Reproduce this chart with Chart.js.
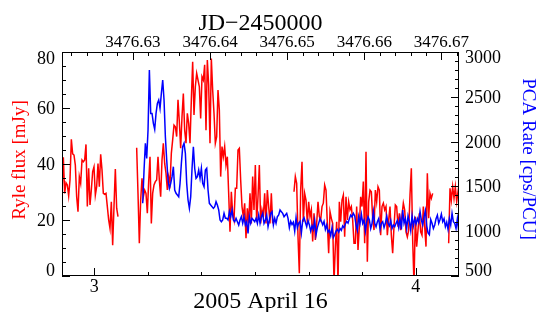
<!DOCTYPE html>
<html><head><meta charset="utf-8">
<script src="https://cdn.jsdelivr.net/npm/chart.js@4.4.0/dist/chart.umd.min.js"></script>
<style>html,body{margin:0;padding:0;background:#fff;}#wrap{width:537px;height:312px;}</style>
</head><body><div id="wrap"><canvas id="c" width="537" height="312" style="width:537px;height:312px"></canvas></div>
<script>
// Time axis: UT hours on 2005 April 16 (JD 2453476.5 = 0h UT)
const xMinUT = 2.8995;
const xMaxUT = 4.1347;
const jdZero = 3476.5;            // JD-2450000 at 0h UT
const sampleStepHours = 0.0041485; // ~15 s sampling
const ryleStartUT = 2.8995;
const pcaStartUT = 3.1506;

// Ryle flux [mJy] (null = no data)
const ryleFlux = [
29.5,42.4,29.5,33.3,32.5,28.6,34.3,48.8,43.6,43.2,39.6,28.3,23.0,35.5,33.1,41.4,40.8,41.4,47.0,24.8,
38.5,25.4,30.7,37.3,39.0,28.9,31.9,40.2,31.9,43.5,37.9,29.5,29.2,29.5,24.8,20.0,17.0,26.5,11.0,24.8,
38.2,24.2,21.2,
null,null,null,null,null,null,null,null,null,null,null,null,null,
45.8,29.5,11.7,27.1,34.9,28.3,30.7,29.5,22.4,33.7,42.6,18.8,29.5,32.5,33.7,34.3,
42.6,34.3,28.3,41.4,47.4,40.2,36.7,30.7,35.5,33.1,43.8,48.6,53.9,53.3,49.8,62.9,55.1,45.6,56.9,65.2,
52.1,47.4,58.1,54.5,47.4,62.9,76.5,57.5,67.6,72.4,70.0,67.6,56.3,71.2,70.0,75.4,52.1,77.1,68.2,47.4,
77.7,66.4,58.1,47.4,49.8,66.4,59.3,35.5,46.2,42.6,46.2,39.6,42.6,29.5,15.8,30.1,22.4,20.0,31.3,31.3,
45.0,45.6,34.3,24.8,21.2,26.0,13.5,24.2,18.8,29.5,18.8,35.5,23.6,39.6,
19.4,28.3,39.6,18.8,23.6,21.2,29.5,18.8,30.7,24.8,18.8,29.5,18.8,
null,null,null,null,null,null,null,null,null,null,null,null,null,null,null,
30.1,35.5,33.1,14.0,1.0,30.7,40.8,19.4,29.5,27.1,18.8,26.5,21.2,23.6,12.3,22.4,12.9,18.8,26.5,21.2,
20.0,24.8,26.0,32.5,30.7,18.8,8.1,23.0,20.6,18.8,-2.0,10.5,19.4,-3.0,26.5,19.4,27.1,28.9,14.0,28.3,
20.0,26.5,23.6,24.8,20.0,11.7,
11.7,24.8,9.3,17.6,28.3,24.8,33.7,11.7,44.4,5.1,26.5,30.7,30.1,20.6,16.4,30.7,26.5,31.9,30.7,14.6,
24.8,26.0,23.6,24.8,14.6,20.0,24.8,14.6,8.1,17.6,25.4,24.8,17.6,22.4,16.4,21.8,26.0,23.6,15.8,14.0,
16.4,28.9,38.5,12.9,-3.0,21.2,10.5,16.4,22.4,15.8,14.6,24.8,17.6,10.5,36.7,20.6,29.5,27.7,29.5,
null,null,null,null,null,null,null,null,null,null,null,
11.7,31.3,27.1,31.9,27.7,31.9,26.5,30.0,27.0
];

// RXTE PCA rate [cps/PCU]
const pcaRate = [
1311,1680,1981,1813,2130,2799,2315,2315,2204,2137,2315,2427,
2464,2371,2539,2687,2464,2055,1795,1571,1478,1534,1609,1720,1460,1423,1404,1385,1534,1757,1943,1981,
1869,1534,1348,1255,1385,1700,1943,1700,1590,1609,1683,1590,1702,1534,1497,1683,1702,1460,1311,1292,
1274,1255,1274,1330,1292,1237,1125,1106,1125,1199,1144,1144,1125,1218,1162,1237,1125,1106,1144,1106,
1069,1125,1162,1088,1162,1069,1106,976,1162,1088,1144,1125,1106,1144,
1088,1181,1088,1162,1199,1088,1125,1181,1051,1125,1199,1218,1069,1144,1088,1162,1181,1237,1218,1199,
1162,1181,1199,1144,
1040,1110,1075,1100,1000,1150,1040,1090,1110,980,1120,1150,1100,1050,1120,1070,1000,1060,1020,1120,
960,1040,1090,1140,1110,1070,1110,1020,1070,990,1010,950,1040,930,960,1000,1020,990,1030,1010,
1060,1040,1080,1110,1090,1140,1180,1160,1200,1170,
1069,1010,1162,1088,1190,1088,1125,1000,1106,1160,1125,1030,1088,1220,1088,1050,1106,1140,1020,1088,
1106,1040,1088,1170,1088,1060,1120,1030,1069,1050,1088,1120,1040,1140,1020,1237,1088,1140,1030,1170,
1106,1010,1170,1060,1140,1080,1140,1100,1220,1125,1070,1160,1230,1060,980,960,1130,1088,1030,1069,
1140,1180,1088,1130,1190,1106,1140,1050,1100,1020,1140,1069,1200,1106,1088,1030,1140,1000
];

// axis ticks
const fluxTicks = [0, 20, 40, 60, 80];
const fluxMinorStep = 5;
const rateTicks = [500, 1000, 1500, 2000, 2500, 3000];
const rateMinorStep = 100;
const utTicks = [3, 4];
const utMinorPerHour = 6;
const jdTicks = [3476.63, 3476.64, 3476.65, 3476.66, 3476.67];
const jdMinorStep = 0.002;

const rylePts = ryleFlux.map((v, i) => ({x: ryleStartUT + i * sampleStepHours, y: v}));
const pcaPts = pcaRate.map((v, i) => ({x: pcaStartUT + i * sampleStepHours, y: v}));

const SERIF = '"Liberation Serif", "Times New Roman", serif';

const idlAxes = {
  id: 'idlAxes',
  afterDatasetsDraw(chart) {
    const {ctx, chartArea: a, scales} = chart;
    const sx = scales.x, sx2 = scales.x2, sy = scales.y, sy2 = scales.y2;
    const MAJ = 8, MIN = 4;
    ctx.save();
    ctx.strokeStyle = '#000';
    ctx.lineWidth = 1;
    ctx.strokeRect(a.left + 0.5, a.top + 0.5, a.right - a.left - 1, a.bottom - a.top - 1);
    ctx.beginPath();
    // left axis
    for (let k = 0; k * fluxMinorStep <= sy.max + 1e-9; k++) {
      const v = k * fluxMinorStep;
      const p = Math.round(sy.getPixelForValue(v)) + 0.5;
      const L = fluxTicks.includes(v) ? MAJ : MIN;
      ctx.moveTo(a.left, p); ctx.lineTo(a.left + L, p);
    }
    // right axis
    for (let k = Math.ceil(sy2.min / rateMinorStep); k * rateMinorStep <= sy2.max + 1e-9; k++) {
      const v = k * rateMinorStep;
      const p = Math.round(sy2.getPixelForValue(v)) + 0.5;
      const L = rateTicks.includes(v) ? MAJ : MIN;
      ctx.moveTo(a.right, p); ctx.lineTo(a.right - L, p);
    }
    // bottom axis (UT)
    for (let k = Math.ceil(sx.min * utMinorPerHour); k <= Math.floor(sx.max * utMinorPerHour); k++) {
      const p = Math.round(sx.getPixelForValue(k / utMinorPerHour)) + 0.5;
      const L = (k % utMinorPerHour === 0) ? MAJ : MIN;
      ctx.moveTo(p, a.bottom); ctx.lineTo(p, a.bottom - L);
    }
    // top axis (JD)
    for (let k = Math.ceil(sx2.min / jdMinorStep - 1e-6); k <= Math.floor(sx2.max / jdMinorStep + 1e-6); k++) {
      const p = Math.round(sx2.getPixelForValue(k * jdMinorStep)) + 0.5;
      const L = (k % 5 === 0) ? MAJ : MIN;
      ctx.moveTo(p, a.top); ctx.lineTo(p, a.top + L);
    }
    ctx.stroke();

    // tick labels
    ctx.fillStyle = '#000';
    ctx.textBaseline = 'alphabetic';
    ctx.font = '18px ' + SERIF;
    ctx.textAlign = 'right';
    fluxTicks.forEach(v => {
      let c = sy.getPixelForValue(v);
      c = Math.min(Math.max(c, a.top + 6), a.bottom - 6);
      ctx.fillText(String(v), a.left - 7, c + 6);
    });
    ctx.textAlign = 'left';
    rateTicks.forEach(v => {
      let c = sy2.getPixelForValue(v);
      c = Math.min(Math.max(c, a.top + 5), a.bottom - 6);
      ctx.fillText(String(v), a.right + 6, c + 6);
    });
    ctx.textAlign = 'center';
    utTicks.forEach(v => ctx.fillText(String(v), sx.getPixelForValue(v), 291.5));
    ctx.font = '17px ' + SERIF;
    jdTicks.forEach(v => ctx.fillText(v.toFixed(2), sx2.getPixelForValue(v), 46.5));

    // titles
    const cx = (a.left + a.right) / 2;
    ctx.font = '24px ' + SERIF;
    ctx.fillText('JD\u22122450000', cx, 30);
    ctx.fillText('2005 April 16', cx, 308);

    ctx.font = '19px ' + SERIF;
    ctx.save();
    ctx.translate(25, 160);
    ctx.rotate(-Math.PI / 2);
    ctx.fillStyle = '#ff0000';
    ctx.fillText('Ryle flux [mJy]', 0, 0);
    ctx.restore();
    ctx.save();
    ctx.translate(522.5, 159);
    ctx.rotate(Math.PI / 2);
    ctx.fillStyle = '#0000ff';
    ctx.fillText('PCA Rate [cps/PCU]', 0, 0);
    ctx.restore();
    ctx.restore();
  }
};

new Chart(document.getElementById('c'), {
  type: 'line',
  data: {
    datasets: [
      {label: 'PCA Rate', data: pcaPts, yAxisID: 'y2', xAxisID: 'x', borderColor: '#0000ff',
       borderWidth: 1.5, pointRadius: 0, tension: 0, spanGaps: false, order: 0, fill: false},
      {label: 'Ryle flux', data: rylePts, yAxisID: 'y', xAxisID: 'x', borderColor: '#ff0000',
       borderWidth: 1.5, pointRadius: 0, tension: 0, spanGaps: false, order: 1, fill: false}
    ]
  },
  options: {
    responsive: false,
    animation: false,
    devicePixelRatio: 1,
    layout: {padding: {left: 62, right: 78, top: 52, bottom: 36}},
    plugins: {legend: {display: false}, tooltip: {enabled: false}},
    scales: {
      x: {type: 'linear', display: false, min: xMinUT, max: xMaxUT},
      x2: {type: 'linear', display: false, min: jdZero + xMinUT / 24, max: jdZero + xMaxUT / 24},
      y: {type: 'linear', display: false, min: 0, max: 80},
      y2: {type: 'linear', display: false, min: 500, max: 3000}
    }
  },
  plugins: [idlAxes]
});
</script>
</body></html>
